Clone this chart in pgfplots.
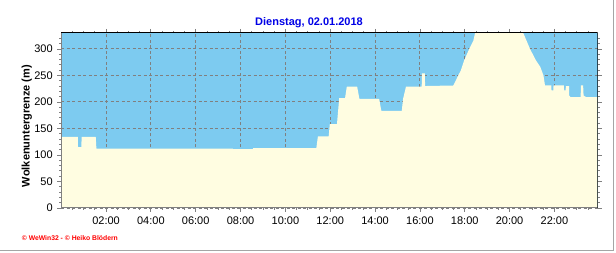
\documentclass[border=0pt]{standalone}
\usepackage{pgfplots}
\pgfplotsset{compat=1.18}
\usepackage{fontspec}
\setmainfont{Liberation Sans}
\definecolor{cloudblue}{RGB}{125,203,240}
\definecolor{clearyellow}{RGB}{255,253,225}
\definecolor{gridgray}{RGB}{128,128,128}
\definecolor{titleblue}{RGB}{0,0,230}
\definecolor{framegray}{RGB}{165,165,165}
\begin{document}
\begin{tikzpicture}[x=1pt,y=1pt]
\path[use as bounding box] (0,0) rectangle (616,253);
\begin{axis}[
  at={(61.2pt,45pt)}, anchor=south west,
  scale only axis, width=536.5pt, height=175pt,
  xmin=0, xmax=23.93, ymin=0, ymax=330,
  xtick={2,4,...,22},
  xticklabels={02:00,04:00,06:00,08:00,10:00,12:00,14:00,16:00,18:00,20:00,22:00},
  minor xtick={0.5,1,...,23.5},
  ytick={0,50,...,300},
  minor ytick={10,20,...,320},
  tick align=outside,
  major tick length=4pt, minor tick length=2pt,
  tick style={gridgray, line width=0.8pt},
  minor tick style={gridgray, line width=0.8pt},
  xmajorgrids, ymajorgrids,
  major grid style={gridgray, dash pattern=on 3pt off 2.5pt, line width=0.9pt},
  axis line style={draw=none},
  axis background/.style={fill=cloudblue},
  ticklabel style={font=\fontsize{11}{12}\selectfont, text=black},
  /pgf/number format/assume math mode=true,
  xticklabel style={yshift=-1pt},
  yticklabel style={xshift=-1pt},
]
\addplot[fill=clearyellow, draw=none] coordinates {
(0,134) (0.74,134) (0.75,115) (0.90,115) (0.91,134) (1.54,134) (1.57,112)
(7.66,112) (7.67,111) (8.55,111) (8.56,113) (11.38,113) (11.45,135)
(11.93,135) (11.98,158) (12.30,158) (12.40,207) (12.66,207) (12.74,229)
(13.20,229) (13.30,206) (14.18,206) (14.28,183) (15.19,183) (15.25,206)
(15.38,229) (16.08,229) (16.09,254) (16.22,254) (16.23,230) (17.49,231)
(17.71,250) (17.82,259) (17.97,278) (18.20,300) (18.38,315) (18.46,330)
(18.50,345) (20.55,345) (20.61,330) (20.91,300) (21.18,278) (21.37,266)
(21.51,250) (21.58,231) (21.86,231) (21.87,222) (21.95,222) (21.96,231)
(22.42,231) (22.43,222) (22.50,222) (22.51,230) (22.65,230) (22.66,212)
(22.72,209) (23.17,209) (23.18,231) (23.28,231) (23.30,212) (23.42,209)
(23.93,209)
} \closedcycle;
\draw[gridgray, line width=1.4pt] (rel axis cs:0,1) -- (rel axis cs:0,0) -- (rel axis cs:1,0);
\draw[black, line width=1pt] (rel axis cs:0,1) -- (rel axis cs:1,1) -- (rel axis cs:1,0);
\end{axis}
\node[font=\fontsize{11}{12}\selectfont\bfseries, text=titleblue] at (309,230.5) {Dienstag, 02.01.2018};
\node[font=\fontsize{11}{12}\selectfont\bfseries, rotate=90] at (26.7,127) {Wolkenuntergrenze (m)};
\node[font=\fontsize{6.8}{8}\selectfont\bfseries, text=red, anchor=west, inner sep=0pt] at (21.7,14.7) {© WeWin32 - © Heiko Blödern};
\draw[framegray, line width=1pt] (613.5,253) -- (613.5,2.5) -- (0,2.5);
\end{tikzpicture}
\end{document}
